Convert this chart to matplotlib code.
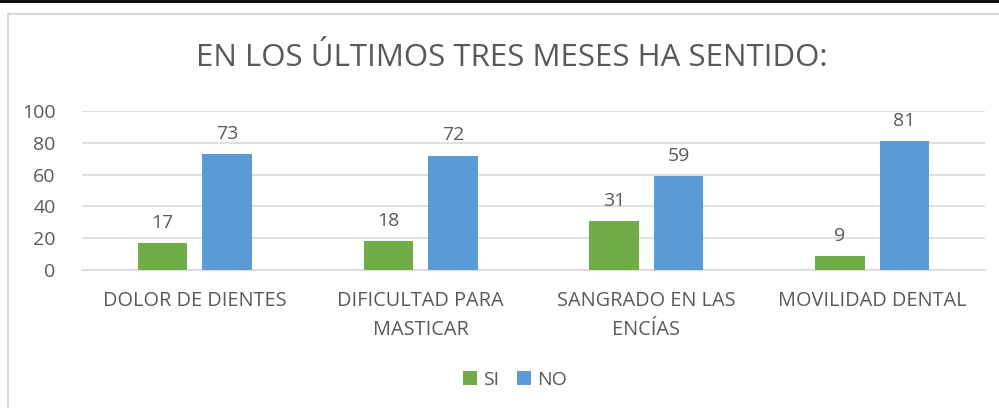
import matplotlib.pyplot as plt
import numpy as np
from matplotlib.patches import Rectangle
from matplotlib.lines import Line2D

categories = ['DOLOR DE DIENTES', 'DIFICULTAD PARA\nMASTICAR', 'SANGRADO EN LAS\nENCÍAS', 'MOVILIDAD DENTAL']
si_values = [17, 18, 31, 9]
no_values = [73, 72, 59, 81]
yticks = [0, 20, 40, 60, 80, 100]

plt.rcParams['font.family'] = ['Open Sans', 'DejaVu Sans']
text_color = '#595959'
green = '#70AD47'
blue = '#5B9BD5'

fig = plt.figure(figsize=(9.99, 4.08), dpi=100)
# outer chart frame and the black line at the top
fig.add_artist(Rectangle((8 / 999, -0.05), 1.1, (408 - 14) / 408 + 0.05, transform=fig.transFigure,
                         fill=False, edgecolor='#D9D9D9', linewidth=1.5))
fig.add_artist(Line2D([0, 1], [1 - 1 / 408, 1 - 1 / 408], transform=fig.transFigure, color='black', linewidth=2))

ax = fig.add_axes([82 / 999, (408 - 270) / 408, (985 - 82) / 999, (270 - 111) / 408])

x = np.arange(len(categories))
width = 0.22
gap = 0.066
b1 = ax.bar(x - (width + gap) / 2, si_values, width, color=green, label='SI', zorder=3)
b2 = ax.bar(x + (width + gap) / 2, no_values, width, color=blue, label='NO', zorder=3)

for bars in (b1, b2):
    for bar in bars:
        ax.annotate(f'{int(bar.get_height())}', (bar.get_x() + bar.get_width() / 2, bar.get_height()),
                    xytext=(0, 8), textcoords='offset points', ha='center', va='bottom',
                    fontsize=14, color=text_color)

ax.set_ylim(0, 100)
ax.set_xlim(-0.5, len(categories) - 0.5)
ax.set_yticks(yticks)
ax.set_xticks(x)
ax.set_xticklabels(categories, fontsize=14.3, color=text_color, linespacing=1.6)
ax.tick_params(axis='y', labelsize=14, labelcolor=text_color, length=0, pad=19)
ax.tick_params(axis='x', length=0, pad=15)
ax.grid(axis='y', color='#D9D9D9', linewidth=1.2, zorder=0)
for s in ['top', 'right', 'left']:
    ax.spines[s].set_visible(False)
ax.spines['bottom'].set_color('#D9D9D9')
ax.spines['bottom'].set_linewidth(1.2)

fig.text(0.512, 1 - 58 / 408, 'EN LOS ÚLTIMOS TRES MESES HA SENTIDO:', ha='center', va='center',
         fontsize=22.5, color=text_color)

fig.legend(handles=[b1, b2], loc='center', bbox_to_anchor=(515 / 999, 1 - 380 / 408), ncol=2,
           frameon=False, fontsize=14, labelcolor=text_color, handlelength=0.75, handleheight=0.75,
           handletextpad=0.3, columnspacing=0.9)

fig.savefig('out.png', dpi=100)
